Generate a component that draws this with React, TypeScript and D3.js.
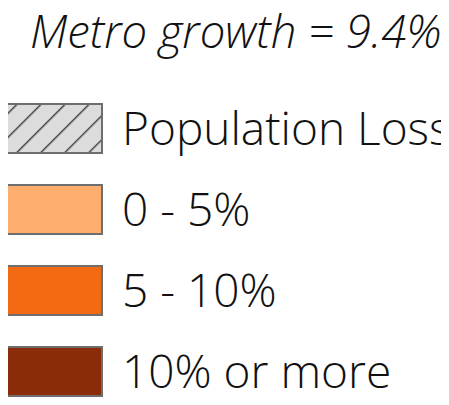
import { useEffect, useRef } from "react";
import * as d3 from "d3";

const title = "Metro growth = 9.4%";
const labels = ["Population Loss", "0 - 5%", "5 - 10%", "10% or more"];
const fills = ["url(#hatch)", "#fdad6e", "#f26b12", "#8a2c08"];

const Legend = () => {
  const ref = useRef<SVGSVGElement>(null);

  useEffect(() => {
    const svg = d3.select(ref.current).attr("width", 449).attr("height", 405);
    svg.selectAll("*").remove();

    const defs = svg.append("defs");
    const pat = defs
      .append("pattern")
      .attr("id", "hatch")
      .attr("patternUnits", "userSpaceOnUse")
      .attr("width", 17)
      .attr("height", 17)
      .attr("patternTransform", "rotate(45)");
    pat.append("rect").attr("width", 17).attr("height", 17).attr("fill", "#dcdcdc");
    pat
      .append("line")
      .attr("x1", 0)
      .attr("y1", 0)
      .attr("x2", 0)
      .attr("y2", 17)
      .attr("stroke", "#4a4a4a")
      .attr("stroke-width", 3);

    svg
      .append("text")
      .attr("x", 30)
      .attr("y", 48)
      .attr("font-family", "'Open Sans'")
      .attr("font-style", "italic")
      .attr("font-weight", 300)
      .attr("font-size", 45.5)
      .attr("fill", "#111")
      .text(title);

    // 4 rows, 81px apart, boxes 49px tall
    const y = d3
      .scaleBand()
      .domain(labels)
      .range([104, 104 + 81 * (labels.length - 1) + 49])
      .paddingInner(32 / 81)
      .paddingOuter(0);

    const row = svg
      .selectAll(".row")
      .data(labels)
      .enter()
      .append("g")
      .attr("class", "row");

    row
      .append("rect")
      .attr("x", 2)
      .attr("y", (d) => y(d)!)
      .attr("width", 100)
      .attr("height", y.bandwidth())
      .attr("fill", (_, i) => fills[i])
      .attr("stroke", "#6e6e6e")
      .attr("stroke-width", 2);

    row
      .append("text")
      .attr("x", 122)
      .attr("y", (d) => y(d)! + y.bandwidth() / 2 + 16)
      .attr("font-family", "'Open Sans'")
      .attr("font-weight", 300)
      .attr("font-size", 46)
      .attr("fill", "#111")
      .text((d) => d);
  }, []);

  return <svg ref={ref} style={{ display: "block" }}></svg>;
};

export default function App() {
  return (
    <div style={{ margin: -8 }}>
      <Legend />
    </div>
  );
}
